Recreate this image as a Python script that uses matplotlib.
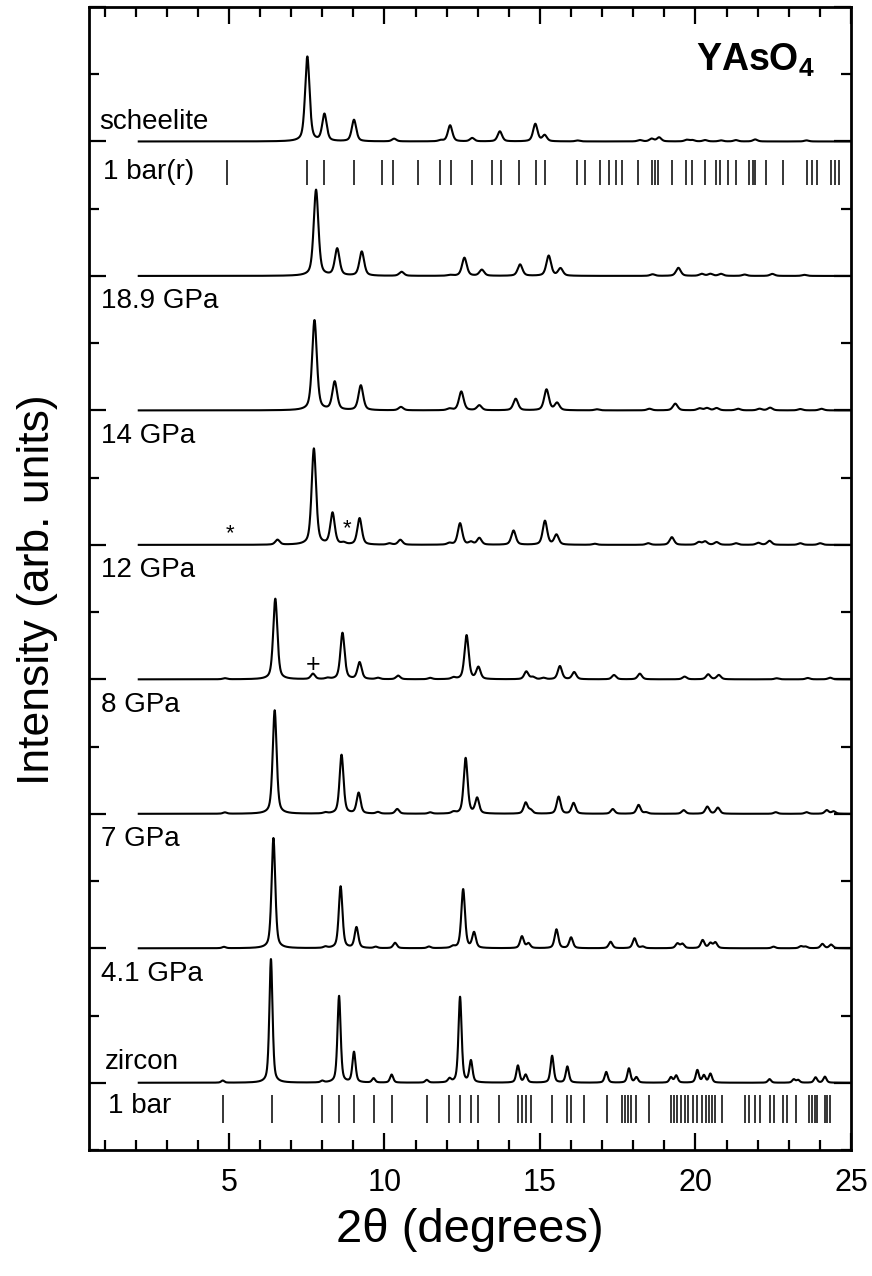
# XRD patterns of YAsO4 under pressure (zircon -> scheelite)
import numpy as np
import matplotlib.pyplot as plt
from matplotlib.ticker import MultipleLocator

plt.rcParams['font.family'] = ['Liberation Sans', 'DejaVu Sans']
plt.rcParams['mathtext.fontset'] = 'custom'
plt.rcParams['mathtext.bf'] = 'Liberation Sans:bold'

# --- data: peak positions (2theta) and peak heights ---
zircon_pos = [4.80, 6.35, 8.00, 8.54, 9.02, 9.65, 10.23, 11.36, 12.09, 12.43, 12.78,
              14.29, 14.54, 15.39, 15.88, 17.13, 17.86, 18.10, 19.21, 19.38, 20.06,
              20.27, 20.48, 22.38, 23.16, 23.30, 23.86, 24.16]
zircon_int = [0.016, 0.92, 0.012, 0.645, 0.226, 0.032, 0.06, 0.02, 0.027, 0.637, 0.16,
              0.127, 0.058, 0.20, 0.12, 0.08, 0.106, 0.04, 0.04, 0.053, 0.093,
              0.053, 0.066, 0.027, 0.025, 0.02, 0.04, 0.045]

p41_pos = [4.84, 6.43, 8.10, 8.59, 9.10, 9.72, 10.34, 11.43, 12.20, 12.53, 12.88,
           14.42, 14.63, 15.53, 16.00, 17.27, 18.04, 18.30, 19.42, 19.58, 20.23,
           20.48, 20.64, 22.51, 23.39, 23.54, 24.08, 24.36]
p41_int = [0.01, 0.82, 0.01, 0.46, 0.154, 0.01, 0.04, 0.012, 0.012, 0.438, 0.114,
           0.088, 0.035, 0.14, 0.08, 0.048, 0.074, 0.012, 0.035, 0.032, 0.06,
           0.037, 0.042, 0.012, 0.015, 0.012, 0.032, 0.027]

p7_pos = [4.87, 6.47, 8.10, 8.62, 9.17, 9.79, 10.41, 11.47, 12.22, 12.61, 12.98,
          14.54, 14.70, 15.60, 16.08, 17.34, 18.17, 18.41, 19.62, 20.38, 20.72,
          22.58, 23.57, 24.22, 24.44]
p7_int = [0.01, 0.77, 0.008, 0.438, 0.154, 0.012, 0.035, 0.01, 0.012, 0.414, 0.114,
          0.082, 0.026, 0.127, 0.08, 0.035, 0.066, 0.01, 0.027, 0.053, 0.045,
          0.012, 0.012, 0.027, 0.018]

p8_pos = [4.87, 6.49, 7.70, 8.17, 8.65, 9.20, 9.79, 10.44, 11.47, 12.22, 12.64, 13.02,
          14.56, 14.77, 15.11, 15.64, 16.10, 17.38, 18.21, 19.65, 20.41, 20.75,
          22.61, 23.61, 24.33]
p8_int = [0.008, 0.60, 0.04, 0.008, 0.345, 0.125, 0.01, 0.027, 0.01, 0.012, 0.327, 0.088,
          0.058, 0.016, 0.01, 0.098, 0.053, 0.032, 0.042, 0.02, 0.037, 0.032,
          0.008, 0.01, 0.012]

p12_pos = [6.56, 7.73, 8.33, 8.69, 9.20, 10.16, 10.51, 12.09, 12.43, 12.78, 13.05,
           14.15, 15.16, 15.53, 16.76, 18.48, 19.24, 20.11, 20.31, 20.68, 21.30,
           22.02, 22.38, 23.37, 24.01]
p12_int = [0.037, 0.715, 0.234, 0.012, 0.197, 0.01, 0.037, 0.012, 0.16, 0.02, 0.05,
           0.106, 0.178, 0.074, 0.008, 0.012, 0.057, 0.02, 0.025, 0.02, 0.012,
           0.015, 0.03, 0.012, 0.012]

p14_pos = [7.75, 8.40, 9.24, 10.53, 12.09, 12.47, 13.05, 14.22, 15.21, 15.55, 16.83,
           18.52, 19.35, 20.13, 20.37, 20.68, 21.37, 22.06, 22.40, 23.37, 24.05]
p14_int = [0.67, 0.21, 0.185, 0.025, 0.012, 0.14, 0.037, 0.086, 0.155, 0.054, 0.008,
           0.012, 0.05, 0.015, 0.017, 0.017, 0.012, 0.012, 0.02, 0.01, 0.012]

p189_pos = [7.80, 8.48, 9.27, 10.55, 12.10, 12.57, 13.13, 14.36, 15.28, 15.66, 18.62,
            19.45, 20.20, 20.48, 20.82, 21.58, 22.47, 23.50]
p189_int = [0.64, 0.20, 0.18, 0.03, 0.006, 0.135, 0.045, 0.085, 0.15, 0.055, 0.012,
            0.06, 0.015, 0.015, 0.015, 0.01, 0.015, 0.008]

sch_pos = [7.52, 8.07, 9.02, 10.31, 11.81, 12.11, 12.82, 13.71, 14.85, 15.15, 16.21,
           18.21, 18.59, 18.83, 19.72, 19.90, 20.31, 20.82, 21.30, 21.92, 23.57]
sch_int = [0.63, 0.20, 0.16, 0.02, 0.008, 0.12, 0.025, 0.075, 0.13, 0.045, 0.007,
           0.01, 0.02, 0.03, 0.012, 0.01, 0.01, 0.008, 0.01, 0.015, 0.008]

# reflection positions (tick marks)
zircon_refl = [4.81, 6.39, 8.00, 8.54, 9.02, 9.65, 10.23, 11.36, 12.09, 12.43, 12.78,
               13.01, 13.67, 14.29, 14.43, 14.54, 14.70, 15.39, 15.88, 16.01, 16.42,
               17.14, 17.63, 17.73, 17.84, 17.93, 18.10, 18.51, 19.21, 19.31, 19.42,
               19.54, 19.65, 19.76, 19.93, 20.06, 20.20, 20.34, 20.44, 20.52, 20.62,
               20.86, 21.58, 21.72, 21.92, 22.06, 22.38, 22.54, 22.82, 22.95, 23.23,
               23.64, 23.75, 23.85, 23.92, 24.15, 24.22, 24.33]
sch_refl = [4.93, 7.52, 8.07, 9.02, 9.91, 10.29, 11.08, 11.79, 12.13, 12.83, 13.45,
            13.74, 14.33, 14.87, 15.15, 16.19, 16.46, 16.93, 17.22, 17.45, 17.65,
            18.16, 18.60, 18.70, 18.80, 19.25, 19.70, 19.88, 20.32, 20.67, 20.79,
            21.04, 21.29, 21.72, 21.85, 21.92, 22.27, 22.81, 23.58, 23.73, 23.90,
            24.37, 24.48, 24.60]

labels = ['zircon', '4.1 GPa', '7 GPa', '8 GPa', '12 GPa', '14 GPa', '18.9 GPa', 'scheelite']
patterns = [(zircon_pos, zircon_int), (p41_pos, p41_int), (p7_pos, p7_int),
            (p8_pos, p8_int), (p12_pos, p12_int), (p14_pos, p14_int),
            (p189_pos, p189_int), (sch_pos, sch_int)]


def profile(x, pos, hgt, w):
    # pseudo-Voigt peaks, 50/50 mix
    y = np.zeros_like(x)
    for p, h in zip(pos, hgt):
        d = (x - p) / w
        y += h * (0.5 * np.exp(-4 * np.log(2) * d ** 2) + 0.5 / (1 + 4 * d ** 2))
    return y


fig = plt.figure(figsize=(8.72, 12.76), dpi=100)
ax = fig.add_axes([89 / 872, 1 - 1150 / 1276, 762 / 872, 1143 / 1276])

x = np.linspace(2.1, 25, 4000)
widths = [0.12, 0.14, 0.15, 0.16, 0.17, 0.18, 0.18, 0.17]
for i, (pos, hgt) in enumerate(patterns):
    ax.plot(x, i + profile(x, pos, hgt, widths[i]), color='black', lw=1.5)

# reflection markers
ax.vlines(zircon_refl, -0.30, -0.09, color='black', lw=1.1)
ax.vlines(sch_refl, 7 - 0.32, 7 - 0.135, color='black', lw=1.1)

# labels of the patterns
fs = 20
for i, lab in enumerate(labels):
    if lab == 'zircon':
        ax.text(1.0, i + 0.1, lab, fontsize=fs, va='baseline')
    elif lab == 'scheelite':
        ax.text(0.84, i + 0.09, lab, fontsize=fs, va='baseline')
    else:
        ax.text(0.87, i - 0.24, lab, fontsize=fs, va='baseline')
ax.text(1.12, -0.225, '1 bar', fontsize=fs, va='baseline')
ax.text(0.96, 7 - 0.28, '1 bar(r)', fontsize=fs, va='baseline')

# extra markers
ax.text(5.03, 4.08, '*', fontsize=16, ha='center', va='center')
ax.text(8.79, 4.12, '*', fontsize=16, ha='center', va='center')
ax.text(7.69, 3.11, '+', fontsize=18, ha='center', va='center')

ax.text(23.85, 7.6, r'$\mathbf{YAsO_4}$', fontsize=27, ha='right', va='center')

ax.set_xlim(0.5, 25)
ax.set_ylim(-0.5, 8.0)
ax.xaxis.set_major_locator(MultipleLocator(5))
ax.xaxis.set_minor_locator(MultipleLocator(1))
ax.yaxis.set_major_locator(MultipleLocator(1))
ax.yaxis.set_minor_locator(MultipleLocator(0.5))
ax.tick_params(which='both', direction='in', top=True, right=True, width=1.6)
ax.tick_params(which='major', length=12)
ax.tick_params(which='minor', length=7)
ax.tick_params(axis='x', labelsize=22, pad=13)
ax.tick_params(axis='y', labelleft=False)
for sp in ax.spines.values():
    sp.set_linewidth(2)

fig.text(470 / 872, 1 - 1230 / 1276, r'2θ (degrees)', fontsize=34, ha='center', va='center')
fig.text(37 / 872, 1 - 590 / 1276, 'Intensity (arb. units)', fontsize=32,
         rotation=90, ha='center', va='center')

fig.savefig('out.png', dpi=100)
